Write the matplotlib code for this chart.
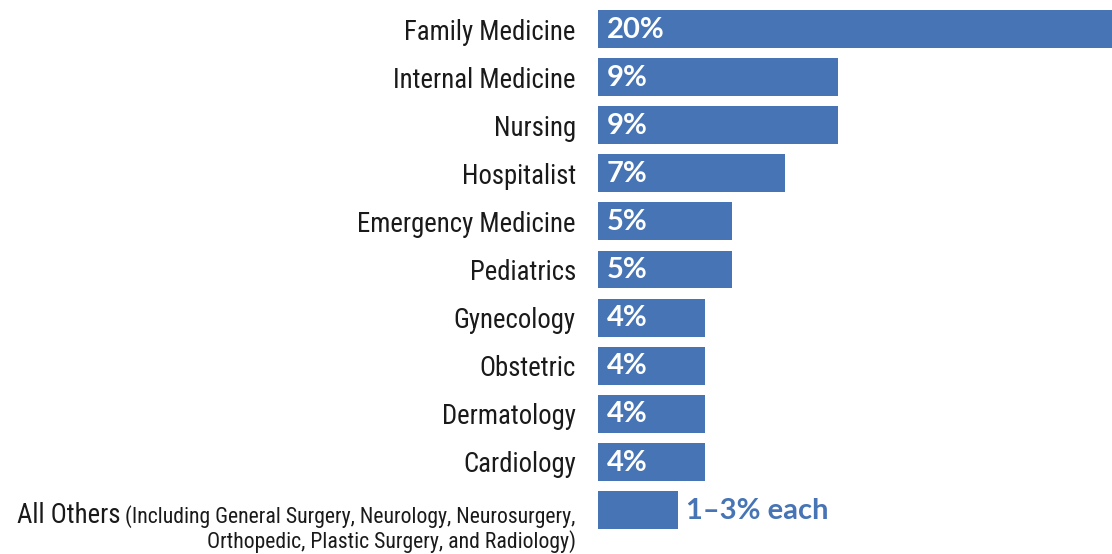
import matplotlib
matplotlib.use('Agg')
import matplotlib.pyplot as plt

categories = ['Family Medicine', 'Internal Medicine', 'Nursing', 'Hospitalist',
              'Emergency Medicine', 'Pediatrics', 'Gynecology', 'Obstetric',
              'Dermatology', 'Cardiology', 'All Others']
values = [20, 9, 9, 7, 5, 5, 4, 4, 4, 4, 3]
value_labels = ['20%', '9%', '9%', '7%', '5%', '5%', '4%', '4%', '4%', '4%', '1\u20133% each']
others_note = ['(Including General Surgery, Neurology, Neurosurgery,',
               'Orthopedic, Plastic Surgery, and Radiology)']

BLUE = '#4674b5'
LABEL_FONT = ['Roboto Condensed', 'Archivo Narrow', 'DejaVu Sans']
VALUE_FONT = ['Lato', 'Open Sans', 'DejaVu Sans']
TXT = '#1a1a1a'

W, H = 1112, 554
fig = plt.figure(figsize=(W / 100, H / 100), dpi=100)
ax = fig.add_axes([598 / W, 1 - 534 / H, 1 - 598 / W, (534 - 5) / H])

ypos = list(range(len(categories)))
ax.barh(ypos, values, height=0.79, color=BLUE)
ax.set_xlim(0, 514 / 26.7)
ax.set_ylim(len(categories) - 0.5, -0.5)

for s in ax.spines.values():
    s.set_visible(False)
ax.set_xticks([])
ax.set_yticks(ypos)
ax.set_yticklabels(categories[:-1] + [''], fontfamily=LABEL_FONT, fontsize=19.3, color=TXT)
ax.tick_params(axis='y', length=0, pad=16)

# values: white inside bars, blue outside for the last one
for i, (v, lab) in enumerate(zip(values, value_labels)):
    if i < len(values) - 1:
        ax.annotate(lab, (0, i), xytext=(6.5, -0.5), textcoords='offset points',
                    ha='left', va='center', color='white', fontsize=21,
                    fontweight='bold', fontfamily=VALUE_FONT)
    else:
        ax.annotate(lab, (v, i), xytext=(6, -0.5), textcoords='offset points',
                    ha='left', va='center', color=BLUE, fontsize=21,
                    fontweight='bold', fontfamily=VALUE_FONT)

# "All Others" label with smaller note on two lines
last = len(categories) - 1
note1 = ax.annotate(others_note[0], (0, last), xytext=(-16, -9.4), textcoords='offset points',
                    ha='right', va='baseline', fontsize=15.7, fontfamily=LABEL_FONT,
                    color=TXT, annotation_clip=False)
ax.annotate(others_note[1], (0, last), xytext=(-16, -27.4), textcoords='offset points',
            ha='right', va='baseline', fontsize=15.7, fontfamily=LABEL_FONT,
            color=TXT, annotation_clip=False)

fig.canvas.draw()
bb = note1.get_window_extent()
x_anchor, y_anchor = ax.transData.transform((0, last))
ax.annotate(categories[-1], (bb.x0 - 5, y_anchor - 9.4 * 100 / 72), xycoords='figure pixels',
            ha='right', va='baseline', fontsize=19.3, fontfamily=LABEL_FONT, color=TXT,
            annotation_clip=False)

fig.savefig('out.png', dpi=100)
